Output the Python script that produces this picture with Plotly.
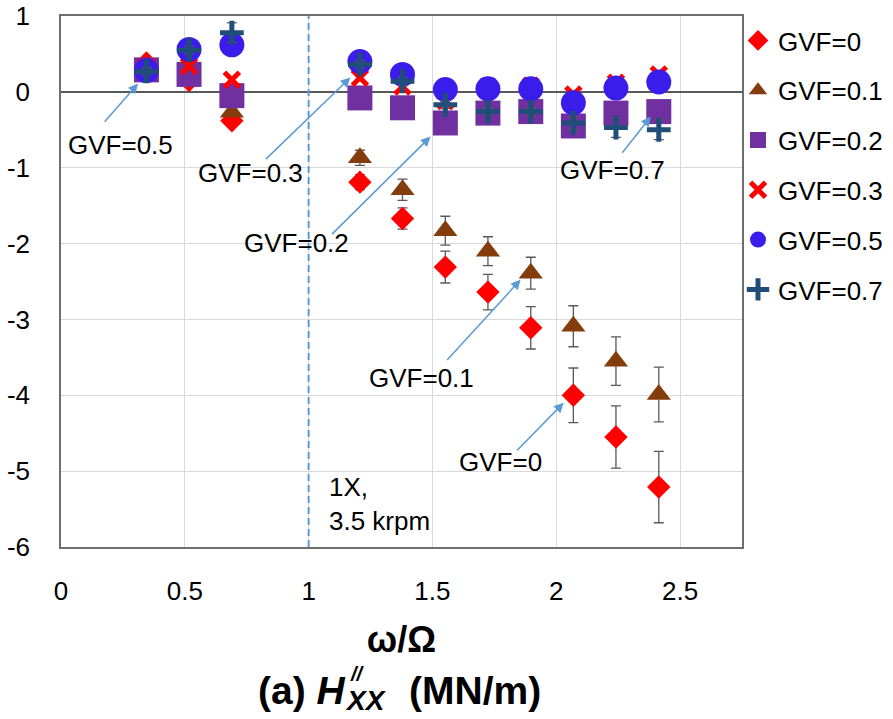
import plotly.graph_objects as go

# ---------------- data ----------------
freq_ratio = [0.345, 0.517, 0.690, 1.207, 1.379, 1.552, 1.724, 1.897, 2.069, 2.241, 2.414]

gvf_00 = [0.38, 0.15, -0.38, -1.19, -1.67, -2.31, -2.64, -3.11, -4.00, -4.55, -5.21]
gvf_01 = [0.30, 0.15, -0.27, -0.87, -1.29, -1.83, -2.10, -2.39, -3.09, -3.55, -3.99]
gvf_02 = [0.29, 0.23, -0.05, -0.08, -0.21, -0.41, -0.28, -0.26, -0.45, -0.28, -0.26]
gvf_03 = [0.33, 0.34, 0.16, 0.185, 0.07, -0.12, 0.07, 0.08, -0.035, 0.12, 0.23]
gvf_05 = [0.28, 0.56, 0.62, 0.40, 0.23, 0.03, 0.04, 0.04, -0.145, 0.05, 0.13]
gvf_07 = [0.27, 0.55, 0.78, 0.36, 0.14, -0.17, -0.26, -0.26, -0.41, -0.47, -0.50]

err_00 = [0.05, 0.05, 0.05, 0.10, 0.14, 0.21, 0.235, 0.28, 0.36, 0.41, 0.47]
err_01 = [0.05, 0.05, 0.05, 0.10, 0.14, 0.19, 0.19, 0.21, 0.27, 0.32, 0.36]
err_07 = [0.05, 0.05, 0.13, 0.05, 0.05, 0.05, 0.05, 0.05, 0.08, 0.13, 0.13]

series_names = ["GVF=0", "GVF=0.1", "GVF=0.2", "GVF=0.3", "GVF=0.5", "GVF=0.7"]

x_tickvals = [0, 0.5, 1, 1.5, 2, 2.5]
x_ticktext = ["0", "0.5", "1", "1.5", "2", "2.5"]
y_tickvals = [1, 0, -1, -2, -3, -4, -5, -6]
y_ticktext = ["1", "0", "-1", "-2", "-3", "-4", "-5", "-6"]

# callout labels: (text, text_x, text_y, head_x, head_y, tail_dx_px, tail_dy_px)
callouts = [
    ("GVF=0.5", 0.2386, -0.70, 0.3114, 0.1095, -35, 40),
    ("GVF=0.3", 0.7643, -1.066, 1.1686, 0.1887, -86, 83),
    ("GVF=0.2", 0.950, -1.989, 1.4921, -0.5897, -100, 99),
    ("GVF=0.7", 2.228, -1.027, 2.3817, -0.3258, -30, 38),
    ("GVF=0.1", 1.4557, -3.769, 1.8560, -2.476, -75, 82),
    ("GVF=0", 1.7752, -4.877, 2.0299, -4.099, -48, 49),
]

FONT = "Liberation Sans, Arial, sans-serif"
ARROW = "#5B9BD5"
ERRC = "#595959"

fig = go.Figure()

def add(name, y, symbol, color, size, err=None, line=None):
    marker = dict(symbol=symbol, color=color, size=size)
    marker["line"] = line if line is not None else dict(width=0)
    kw = {}
    if err is not None:
        kw["error_y"] = dict(type="data", array=err, visible=True,
                             color=ERRC, thickness=1.3, width=5)
    fig.add_trace(go.Scatter(x=freq_ratio, y=y, mode="markers", name=name,
                             legendgroup=name, marker=marker, **kw))

add(series_names[0], gvf_00, "diamond", "#FF0000", 18, err_00)
add(series_names[1], gvf_01, "triangle-up", "#843C0C", 21, err_01)
add(series_names[2], gvf_02, "square", "#7030A0", 25)
add(series_names[3], gvf_03, "x-thin-open", "#FF0000", 15,
    line=dict(width=5, color="#FF0000"))
add(series_names[4], gvf_05, "circle", "#3B1DEB", 25)
add(series_names[5], gvf_07, "cross-thin-open", "#1F4E79", 17, err_07,
    line=dict(width=5, color="#1F4E79"))

# vertical 1X line
fig.add_shape(type="line", xref="x", yref="paper", x0=1, x1=1, y0=0, y1=1,
              line=dict(color=ARROW, width=2, dash="7px,4px"))

for text, tx, ty, hx, hy, dx, dy in callouts:
    fig.add_annotation(x=tx, y=ty, xref="x", yref="y", text=text, showarrow=False,
                       font=dict(family=FONT, size=26, color="#000000"))
    fig.add_annotation(x=hx, y=hy, xref="x", yref="y", text=" ", showarrow=True,
                       ax=dx, ay=dy, arrowhead=2, arrowsize=1.3, arrowwidth=1.5,
                       arrowcolor=ARROW, font=dict(size=1), standoff=0)

fig.add_annotation(x=1.0756, y=-5.43, xref="x", yref="y", xanchor="left",
                   text="1X,<br>3.5 krpm", showarrow=False, align="left",
                   font=dict(family=FONT, size=26, color="#000000"))

# bottom caption (positions in figure pixels -> paper fractions)
def px_to_paper_x(px):
    return (px - 61) / 681.0

def px_to_paper_y(py):
    return (547 - py) / 531.0

cap_font = dict(family=FONT, size=39, color="#000000")
fig.add_annotation(x=px_to_paper_x(347), y=px_to_paper_y(690), xref="paper", yref="paper",
                   xanchor="right", yanchor="middle", showarrow=False, borderpad=0,
                   text="<b>(a) <i>H</i></b>", font=cap_font)
fig.add_annotation(x=px_to_paper_x(349), y=px_to_paper_y(674), xref="paper", yref="paper",
                   xanchor="left", yanchor="middle", showarrow=False, borderpad=0,
                   text="<b><i>//</i></b>", font=dict(family=FONT, size=20, color="#000000"))
fig.add_annotation(x=px_to_paper_x(344), y=px_to_paper_y(700), xref="paper", yref="paper",
                   xanchor="left", yanchor="middle", showarrow=False, borderpad=0,
                   text="<b><i>XX</i></b>", font=dict(family=FONT, size=28, color="#000000"))
fig.add_annotation(x=px_to_paper_x(408), y=px_to_paper_y(690), xref="paper", yref="paper",
                   xanchor="left", yanchor="middle", showarrow=False, borderpad=0,
                   text="<b>(MN/m)</b>", font=cap_font)

fig.update_layout(
    width=893, height=719,
    margin=dict(l=61, r=151, t=16, b=172, autoexpand=False),
    paper_bgcolor="white", plot_bgcolor="white",
    font=dict(family=FONT, size=26, color="#000000"),
    showlegend=True,
    legend=dict(xref="container", yref="container", x=738 / 893, xanchor="left",
                y=1 - 17 / 719, yanchor="top",
                font=dict(family=FONT, size=26, color="#000000"),
                tracegroupgap=13, bgcolor="rgba(0,0,0,0)", itemwidth=30),
    xaxis=dict(range=[0, 2.75], tickvals=x_tickvals, ticktext=x_ticktext,
               showgrid=True, gridcolor="#D9D9D9", gridwidth=1,
               showline=True, linecolor="#6E6E6E", linewidth=1.5, mirror=True,
               zeroline=False, ticks="", ticklabelstandoff=20, automargin=False,
               tickfont=dict(family=FONT, size=26),
               title=dict(text="<b>ω/Ω</b>", font=dict(family=FONT, size=36), standoff=22)),
    yaxis=dict(range=[-6, 1], tickvals=y_tickvals, ticktext=y_ticktext,
               showgrid=True, gridcolor="#D9D9D9", gridwidth=1,
               showline=True, linecolor="#6E6E6E", linewidth=1.5, mirror=True,
               zeroline=True, zerolinecolor="#595959", zerolinewidth=1.5,
               ticks="", ticklabelstandoff=24, automargin=False,
               tickfont=dict(family=FONT, size=26)),
)

fig.write_html("out.html")
